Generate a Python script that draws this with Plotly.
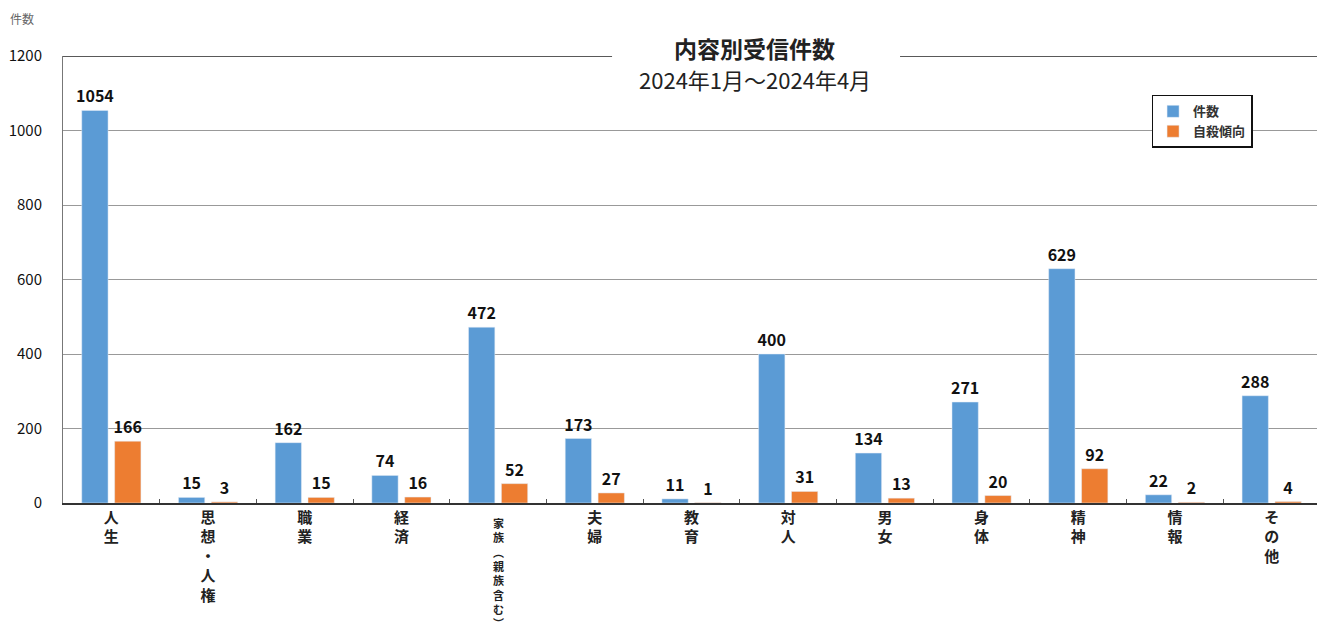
import plotly.graph_objects as go

categories = ["人生", "思想・人権", "職業", "経済", "家族︵親族含む︶", "夫婦", "教育",
              "対人", "男女", "身体", "精神", "情報", "その他"]
counts = [1054, 15, 162, 74, 472, 173, 11, 400, 134, 271, 629, 22, 288]
suicidal = [166, 3, 15, 16, 52, 27, 1, 31, 13, 20, 92, 2, 4]
y_ticks = [0, 200, 400, 600, 800, 1000, 1200]

FONT = "Noto Sans CJK JP"
LONG = "家族︵親族含む︶"

ticktext = ["" if c == LONG else "<b>" + "<br>".join(list(c)) + "</b>" for c in categories]

fig = go.Figure()
fig.add_trace(go.Bar(name="<b>件数</b>", x=categories, y=counts, marker_color="#5B9BD5",
                     text=["<b>%d</b>" % v for v in counts], textposition="outside",
                     textfont=dict(size=16, color="#111", family=FONT), cliponaxis=False))
fig.add_trace(go.Bar(name="<b>自殺傾向</b>", x=categories, y=suicidal, marker_color="#ED7D31",
                     text=["<b>%d</b>" % v for v in suicidal], textposition="outside",
                     textfont=dict(size=16, color="#111", family=FONT), cliponaxis=False))

fig.update_layout(
    width=1317, height=628,
    margin=dict(l=55, r=5, t=48, b=133, autoexpand=False),
    paper_bgcolor="white", plot_bgcolor="white",
    barmode="group", bargap=0.32, bargroupgap=0.2,
    font=dict(family=FONT, color="#111"),
    showlegend=True,
    legend=dict(x=0.866, y=0.913, xanchor="left", yanchor="top",
                bordercolor="#111", borderwidth=1.5, bgcolor="white",
                font=dict(size=13, family=FONT, color="#333"),
                itemwidth=30, tracegroupgap=2),
    uniformtext=dict(minsize=16, mode="show"),
)
fig.update_xaxes(showline=True, linecolor="#333", linewidth=1.5, automargin=False,
                 tickvals=categories, ticktext=ticktext,
                 ticks="inside", ticklen=4, tickcolor="#555", tickson="boundaries",
                 tickfont=dict(size=15, family=FONT, color="#222"), tickangle=0)
fig.update_yaxes(range=[0, 1200], tickvals=y_ticks, showgrid=True, gridcolor="#999",
                 gridwidth=1, showline=True, linecolor="#777", linewidth=1, automargin=False,
                 tickfont=dict(size=15, family=FONT, color="#111"), ticks="",
                 tickprefix="<b>", ticksuffix="</b>",
                 zeroline=False, ticklabelstandoff=17)

# long vertical category label, set slightly tighter so it fits
fig.add_annotation(xref="x", yref="paper", x=LONG, y=-0.022, xanchor="center", yanchor="top",
                   text="<b>" + "<br>".join(list(LONG)) + "</b>", showarrow=False,
                   font=dict(size=11, family=FONT, color="#222"))

fig.add_shape(type="line", xref="paper", yref="y", x0=0, x1=1, y0=1200, y1=1200,
              line=dict(color="#222", width=1.5), layer="above")
fig.add_shape(type="rect", xref="paper", yref="paper", x0=0.4368, x1=0.6659, y0=0.99, y1=1.06,
              fillcolor="white", line=dict(width=0), layer="above")
fig.add_annotation(xref="paper", yref="paper", x=0.5505, y=1.018, xanchor="center", yanchor="middle",
                   text="<b>内容別受信件数</b>", showarrow=False,
                   font=dict(size=23, family=FONT, color="#222"))
fig.add_annotation(xref="paper", yref="paper", x=0.5505, y=0.949, xanchor="center", yanchor="middle",
                   text="2024年1月～2024年4月", showarrow=False,
                   font=dict(size=22, family=FONT, color="#222"))
fig.add_annotation(xref="paper", yref="paper", x=-0.0326, y=1.085, xanchor="center", yanchor="middle",
                   text="件数", showarrow=False, font=dict(size=12, family=FONT, color="#666"))

fig.write_html("out.html")
